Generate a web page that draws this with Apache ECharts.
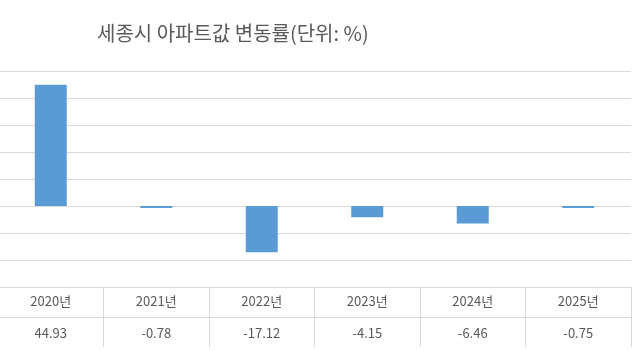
<!DOCTYPE html>
<html><head><meta charset="utf-8">
<script src="https://cdn.jsdelivr.net/npm/echarts@6/dist/echarts.min.js"></script>
<style>html,body{margin:0;padding:0;background:#fff;overflow:hidden}#c{position:absolute;left:-2px;top:0;width:645px;height:351px}</style>
</head><body><div id="c"></div>
<script>
const titleText = '세종시 아파트값 변동률(단위: %)';
const categories = ['2020년','2021년','2022년','2023년','2024년','2025년'];
const values = [44.93, -0.78, -17.12, -4.15, -6.46, -0.75];
const yMin = -30, yMax = 50, yStep = 10;

const font = '"Noto Sans CJK KR", "Noto Sans", sans-serif';
const chart = echarts.init(document.getElementById('c'), null, {renderer:'canvas'});
chart.setOption({
  animation:false,
  backgroundColor:'#fff',
  title:{text:titleText,left:94,top:18,textStyle:{fontFamily:font,fontSize:20,fontWeight:'normal',color:'#595959'}},
  grid:[
    {left:0,right:12,top:71,bottom:64},
    {left:0,right:12,top:287,height:60}
  ],
  xAxis:[
    {type:'category',gridIndex:0,data:categories,axisLine:{show:false},axisTick:{show:false},axisLabel:{show:false}},
    {type:'category',gridIndex:1,position:'top',data:categories,axisLine:{show:false},axisTick:{show:false},
     splitLine:{show:true,lineStyle:{color:'#d9d9d9'}},
     axisLabel:{inside:true,margin:8,fontFamily:font,fontSize:13,color:'#595959'}},
    {type:'category',gridIndex:1,position:'bottom',data:values.map(v=>v.toFixed(2)),axisLine:{show:false},axisTick:{show:false},
     axisLabel:{inside:true,margin:7,fontFamily:font,fontSize:13,color:'#595959'}}
  ],
  yAxis:[
    {type:'value',gridIndex:0,min:yMin,max:yMax,interval:yStep,axisLabel:{show:false},axisLine:{show:false},axisTick:{show:false},
     splitLine:{lineStyle:{color:'#d9d9d9'}}},
    {type:'value',gridIndex:1,min:0,max:2,interval:1,axisLabel:{show:false},axisLine:{show:false},axisTick:{show:false},
     splitLine:{showMinLine:false,lineStyle:{color:'#d9d9d9'}}}
  ],
  series:[{type:'bar',xAxisIndex:0,yAxisIndex:0,data:values,barWidth:32,itemStyle:{color:'#5b9bd5'}}]
});
</script></body></html>
